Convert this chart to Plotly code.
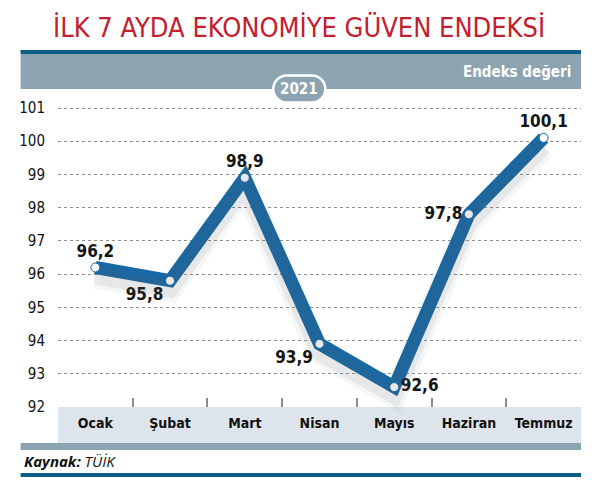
import plotly.graph_objects as go

months = ['Ocak', 'Şubat', 'Mart', 'Nisan', 'Mayıs', 'Haziran', 'Temmuz']
values = [96.2, 95.8, 98.9, 93.9, 92.6, 97.8, 100.1]
value_labels = ['96,2', '95,8', '98,9', '93,9', '92,6', '97,8', '100,1']
y_ticks = [92, 93, 94, 95, 96, 97, 98, 99, 100, 101]

# the page body adds an 8px margin, so the figure is 8px smaller than the window
OFF = 8
W, H = 592 - OFF, 483 - OFF
ML, MR, MT, MB = 50 - OFF, 11, 100 - OFF, 67
SHADOW = 9  # px the drop shadow sits under the line

NARROW = 'DejaVu Sans Condensed, Liberation Sans Narrow, sans-serif'
BLUE = '#1868a4'
DARK_BLUE = '#0d5d89'
GREY_BAND = '#8ca4b2'
LIGHT_BAND = '#dee4ec'

plot_w = W - ML - MR
plot_h = H - MT - MB


# positions below are given in window pixels and converted to paper units
def px(x):
    return (x - OFF - ML) / plot_w


def py(y):
    return (H - MB - (y - OFF)) / plot_h


fig = go.Figure()

# soft shadow under the line, drawn on a copy of the y axis shifted down
for width, alpha in [(24, 0.06), (16, 0.10)]:
    fig.add_trace(go.Scatter(
        x=months, y=values, xaxis='x', yaxis='y2',
        mode='lines', line=dict(color=f'rgba(90,100,110,{alpha})', width=width),
        hoverinfo='skip', showlegend=False,
    ))

fig.add_trace(go.Scatter(
    x=months, y=values,
    mode='lines+markers+text',
    line=dict(color=BLUE, width=13),
    marker=dict(size=9, color='white', line=dict(color=BLUE, width=1)),
    text=value_labels,
    textposition=['top center', 'bottom left', 'top center', 'bottom left',
                  'middle right', 'middle left', 'top center'],
    textfont=dict(family=NARROW, size=17, color='#151515', weight='bold'),
    cliponaxis=False,
    showlegend=False,
))

y_top = 92 + (plot_h - SHADOW) / 33.22

shapes = [
    # header bars
    dict(type='rect', xref='paper', yref='paper', x0=px(12), x1=px(581), y0=py(54), y1=py(50),
         fillcolor=DARK_BLUE, line_width=0, layer='below'),
    dict(type='rect', xref='paper', yref='paper', x0=px(12), x1=px(581), y0=py(89), y1=py(54),
         fillcolor=GREY_BAND, line_width=0, layer='below'),
    # category band under the plot
    dict(type='rect', xref='paper', yref='paper', x0=0, x1=px(581), y0=py(443), y1=py(407),
         fillcolor=LIGHT_BAND, line_width=0, layer='below'),
    dict(type='rect', xref='paper', yref='paper', x0=px(12), x1=px(581), y0=py(450), y1=py(443),
         fillcolor=GREY_BAND, line_width=0, layer='below'),
    dict(type='rect', xref='paper', yref='paper', x0=px(12), x1=px(581), y0=py(477), y1=py(473),
         fillcolor=DARK_BLUE, line_width=0, layer='below'),
]

# rounded "2021" pill
k = 0.5523 * 13.5
pill = (f'M -12.5,-13.5 L 12.5,-13.5 C {12.5 + k},-13.5 26,{-k} 26,0 '
        f'C 26,{k} {12.5 + k},13.5 12.5,13.5 L -12.5,13.5 '
        f'C {-12.5 - k},13.5 -26,{k} -26,0 C -26,{-k} {-12.5 - k},-13.5 -12.5,-13.5 Z')
shapes.append(dict(type='path', xref='paper', yref='paper', xsizemode='pixel', ysizemode='pixel',
                   xanchor=px(295), yanchor=py(89), path=pill,
                   fillcolor=GREY_BAND, line=dict(color='white', width=2.5), layer='above'))

annotations = [
    dict(text='İLK 7 AYDA EKONOMİYE GÜVEN ENDEKSİ', xref='paper', yref='paper',
         x=px(295), y=py(28), xanchor='center', yanchor='middle', showarrow=False,
         font=dict(family=NARROW, size=27, color='#c2202f')),
    dict(text='<b>Endeks değeri</b>', xref='paper', yref='paper',
         x=px(573), y=py(72), xanchor='right', yanchor='middle', showarrow=False,
         font=dict(family=NARROW, size=15, color='white')),
    dict(text='<b>2021</b>', xref='paper', yref='paper',
         x=px(295), y=py(89), xanchor='center', yanchor='middle', showarrow=False,
         font=dict(family=NARROW, size=15, color='white')),
    dict(text='<b><i>Kaynak:</i></b> <i>TÜİK</i>', xref='paper', yref='paper',
         x=px(13), y=py(461), xanchor='left', yanchor='middle', showarrow=False,
         font=dict(family='Open Sans, sans-serif', size=15, color='#111')),
]

fig.update_layout(
    width=W, height=H,
    margin=dict(l=ML, r=MR, t=MT, b=MB),
    paper_bgcolor='white', plot_bgcolor='rgba(0,0,0,0)',
    shapes=shapes, annotations=annotations,
    xaxis=dict(
        type='category', range=[-0.5, 6.5], showgrid=False, zeroline=False,
        showline=False, ticks='inside', tickson='boundaries', ticklen=9,
        tickcolor='#8c8c8c', tickwidth=1.5,
        tickfont=dict(family=NARROW, size=14, color='#111', weight='bold'),
        ticklabelstandoff=6,
        anchor='y',
    ),
    yaxis=dict(
        domain=[SHADOW / plot_h, 1], range=[92, y_top],
        tickvals=y_ticks, ticktext=[str(v) for v in y_ticks],
        showgrid=True, gridcolor='#8e8e8e', griddash='dot', gridwidth=1.2,
        zeroline=False, showline=False, ticks='',
        tickfont=dict(family=NARROW, size=15, color='#111'), ticklabelstandoff=12,
    ),
    yaxis2=dict(
        domain=[0, 1 - SHADOW / plot_h], range=[92, y_top], visible=False,
        anchor='x',
    ),
)

fig.write_html('out.html')
